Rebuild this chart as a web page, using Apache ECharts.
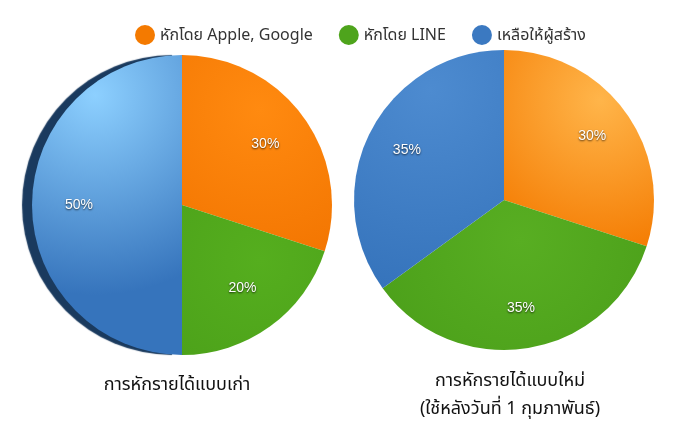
<!DOCTYPE html>
<html><head><meta charset="utf-8">
<script src="https://cdn.jsdelivr.net/npm/echarts@6/dist/echarts.min.js"></script>
<style>html,body{margin:0;padding:0;background:#fff}#c{width:685px;height:430px}</style>
</head><body><div id="c"></div>
<script>
var categories = ['หักโดย Apple, Google', 'หักโดย LINE', 'เหลือให้ผู้สร้าง'];
var oldValues = [30, 20, 50];
var newValues = [30, 35, 35];
var pieTitles = ['การหักรายได้แบบเก่า', 'การหักรายได้แบบใหม่\n(ใช้หลังวันที่ 1 กุมภาพันธ์)'];

var FONT = '"Noto Sans", "Noto Sans Thai", sans-serif';
var baseColors = ['#F47A00', '#4EA41C', '#3B79C1'];

function rg(cx, cy, r, c1, c2) {
  return {type: 'radial', x: cx, y: cy, r: r, global: true,
    colorStops: [{offset: 0, color: c1}, {offset: 1, color: c2}]};
}
var leftStyles = [
  {color: rg(260, 110, 170, '#FF8A10', '#F27400')},
  {color: rg(260, 260, 170, '#55AE1E', '#4A9E19')},
  {color: rg(95, 95, 200, '#8DD0FF', '#3674BC'), shadowColor: '#1A3A5E', shadowOffsetX: -10, shadowOffsetY: 0, shadowBlur: 1}
];
var rightStyles = [
  {color: rg(600, 100, 160, '#FFB54A', '#F47A00')},
  {color: rg(520, 240, 180, '#58AE22', '#4A9E19')},
  {color: rg(430, 90, 200, '#4D8BD0', '#3674BC')}
];

function mkData(vals, styles) {
  return vals.map(function (v, i) {
    return {name: categories[i], value: v, itemStyle: styles[i]};
  });
}
function mkLabelData(vals) {
  return vals.map(function (v, i) { return {name: categories[i], value: v}; });
}
var labelStyle = {
  show: true, position: 'inside', formatter: '{d}%', color: '#fff',
  fontSize: 14, fontFamily: 'Arial, "Liberation Sans", sans-serif',
  textShadowColor: 'rgba(0,0,0,0.75)', textShadowBlur: 2, textShadowOffsetX: 0, textShadowOffsetY: 1
};

var chart = echarts.init(document.getElementById('c'), null, {renderer: 'canvas'});
chart.setOption({
  animation: false,
  color: baseColors,
  legend: {
    top: 20, left: 130, itemGap: 26, icon: 'circle', itemWidth: 20, itemHeight: 20,
    textStyle: {fontSize: 16, color: '#333', fontFamily: FONT},
    data: categories.map(function (c, i) { return {name: c, itemStyle: {color: baseColors[i]}}; })
  },
  title: [
    {text: pieTitles[0], left: 172, top: 371, textAlign: 'center',
     textStyle: {fontSize: 18, fontWeight: 'normal', color: '#111', fontFamily: FONT}},
    {text: pieTitles[1], left: 505, top: 362, textAlign: 'center',
     textStyle: {fontSize: 18, fontWeight: 'normal', color: '#111', fontFamily: FONT, lineHeight: 28}}
  ],
  series: [
    {type: 'pie', center: [182, 205], radius: [0, 150], startAngle: 90, clockwise: true,
     label: {show: false}, labelLine: {show: false}, silent: true,
     data: mkData(oldValues, leftStyles)},
    {type: 'pie', center: [504, 200], radius: [0, 150], startAngle: 90, clockwise: true,
     label: {show: false}, labelLine: {show: false}, silent: true,
     data: mkData(newValues, rightStyles)},
    {type: 'pie', center: [182, 205], radius: [50, 150], startAngle: 90, silent: true,
     itemStyle: {color: 'rgba(0,0,0,0)'}, label: labelStyle, labelLine: {show: false},
     data: mkLabelData(oldValues)},
    {type: 'pie', center: [504, 200], radius: [62, 150], startAngle: 90, silent: true,
     itemStyle: {color: 'rgba(0,0,0,0)'}, label: labelStyle, labelLine: {show: false},
     data: mkLabelData(newValues)}
  ]
});
</script></body></html>
